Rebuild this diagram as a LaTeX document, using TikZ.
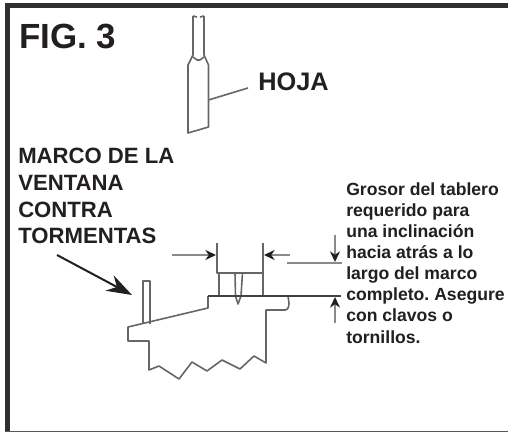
\documentclass[tikz,border=0pt]{standalone}
\usepackage{fontspec}
\setmainfont{Liberation Sans}
\usetikzlibrary{arrows.meta}
\definecolor{ink}{HTML}{231F20}
\definecolor{band}{HTML}{2F2F34}
\definecolor{wire}{HTML}{666668}
\definecolor{soft}{HTML}{8A8A8C}
\tikzset{
  wireline/.style={draw=wire,line width=1.2pt,line join=round},
  softline/.style={draw=soft,line width=1.2pt},
  dimarrow/.style={draw=soft,line width=1.2pt,-{Stealth[length=8pt,width=7.5pt,color=ink]}},
  lab/.style={inner sep=0pt,anchor=base west,text=ink,font=\bfseries},
}
\begin{document}
\frenchspacing
\begin{tikzpicture}[x=0.75pt,y=-0.75pt]
\useasboundingbox (0,0) rectangle (508,432);
\fill[white] (0,0) rectangle (508,432);
% frame
\fill[band] (5,3) rectangle (508,8);
\fill[band] (5,3) rectangle (10,432);
\fill[band!80!white] (5,430.6) rectangle (508,432);
% labels
\node[lab,font=\bfseries\fontsize{26.2pt}{28pt}\selectfont] (fig) at (19,48) {FIG. 3};
\node[lab,font=\bfseries\fontsize{19pt}{20pt}\selectfont] (hoja) at (258,90) {HOJA};
\node[lab,font=\bfseries\fontsize{16.6pt}{20pt}\selectfont] (m1) at (18,163) {MARCO DE LA};
\node[lab,font=\bfseries\fontsize{16.6pt}{20pt}\selectfont] (m2) at (18,190) {VENTANA};
\node[lab,font=\bfseries\fontsize{16.6pt}{20pt}\selectfont] (m3) at (18,217) {CONTRA};
\node[lab,font=\bfseries\fontsize{16.6pt}{20pt}\selectfont] (m4) at (18,243.5) {TORMENTAS};
\foreach \n/\y/\t in {g1/195/Grosor del tablero,g2/216/requerido para,g3/237.3/una inclinación,g4/258.4/hacia atrás a lo,g5/279.6/largo del marco,g6/300.7/completo. Asegure,g7/321.9/con clavos o,g8/343/tornillos.}
  \node[lab,font=\bfseries\fontsize{13.2pt}{15pt}\selectfont] (\n) at (346,\y) {\t};
% sash (hoja)
\draw[wireline] (193,16) -- (193,55) -- (188,65) -- (188,133) -- (208.5,127) -- (208.5,65) -- (204,55) -- (204,16);
\draw[wireline] (193,16) -- (197,17) (200,17) -- (204,16);
\draw[wireline] (193,57) -- (197,60) -- (200,60) -- (204,57);
\coordinate (hojaend) at (248,88);
\coordinate (hojaroot) at (208.5,100);
\draw[wireline] (hojaroot) -- (hojaend);
% sill profile
\draw[wireline] (208,296) -- (208,308) -- (128,327) -- (128,341) -- (149,341) -- (149,370)
  -- (159,366) -- (179,379) -- (192,362) -- (207,371) -- (222,360) -- (240,369) -- (254,356)
  -- (266,363) -- (266,310) -- (285,310) to[out=0,in=-90] (289,303) -- (288,296);
\draw[wireline] (143,324) -- (143,281) -- (150,281) -- (150,324);
% board and nail
\draw[wireline] (217,243) -- (217,273) -- (263,273) -- (263,243);
\draw[wireline] (219,273) -- (219,296) (263,273) -- (263,296);
\draw[wireline] (235,273) -- (235.5,296) -- (238,304) -- (241,296) -- (242.5,273);
\draw[wireline,draw=ink!85!white] (208,296) -- (341,296);
% dimension arrows
\coordinate (la) at (172,255); \coordinate (lb) at (216,255);
\coordinate (ra) at (290,255); \coordinate (rb) at (264,255);
\coordinate (ua) at (335,235); \coordinate (ub) at (335,262);
\coordinate (da) at (335,323); \coordinate (db) at (335,297);
\draw[dimarrow] (la) -- (lb);
\draw[dimarrow] (ra) -- (rb);
\draw[dimarrow] (ua) -- (ub);
\draw[dimarrow] (da) -- (db);
\draw[softline] (287,263) -- (342,263);
% big arrow to the storm window frame
\coordinate (ba) at (57,255); \coordinate (bb) at (132,295);
\draw[draw=ink,line width=1.5pt,-{Stealth[length=19pt,width=13pt,color=ink]}] (ba) -- (bb);
\end{tikzpicture}
\end{document}
